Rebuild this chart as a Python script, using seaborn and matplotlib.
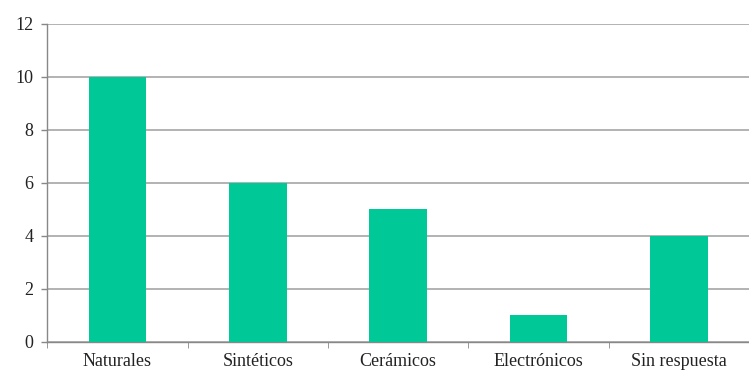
import matplotlib
matplotlib.use("Agg")
import matplotlib.pyplot as plt
from matplotlib import font_manager
import numpy as np
import pandas as pd
import seaborn as sns

categories = ["Naturales", "Sintéticos", "Cerámicos", "Electrónicos", "Sin respuesta"]
values = [10, 6, 5, 1, 4]

df = pd.DataFrame({"categoria": categories, "n": values})

sns.set_style("white")
serif_path = font_manager.findfont(font_manager.FontProperties(family="Liberation Serif"))
fp = font_manager.FontProperties(fname=serif_path, size=13)

fig = plt.figure(figsize=(7.49, 3.74), dpi=100)
ax = fig.add_axes([0.063, 0.086, 0.937, 0.85])

sns.barplot(data=df, x="categoria", y="n", color="#00C896", saturation=1,
            width=0.41, linewidth=0, ax=ax, zorder=3)

ax.set_ylim(0, 12)
ax.set_xlim(-0.5, len(categories) - 0.5)
ax.set_yticks(np.arange(0, 13, 2))
ax.yaxis.grid(True, color="#A6A6A6", lw=1.2, zorder=0)
ax.set_xlabel("")
ax.set_ylabel("")
ax.tick_params(axis="both", colors="#222222")
ax.tick_params(axis="y", length=4, color="#888888", width=1, left=True, pad=6)
ax.tick_params(axis="x", length=0, pad=8)
ax.set_xticks(np.arange(-0.5, len(categories), 1), minor=True)
ax.tick_params(axis="x", which="minor", length=4, color="#888888", bottom=True)
ax.set_xticklabels(categories, fontproperties=fp)
ax.set_yticklabels([str(v) for v in range(0, 13, 2)], fontproperties=fp)

for s in ["top", "right"]:
    ax.spines[s].set_visible(False)
ax.spines["left"].set_color("#888888")
ax.spines["bottom"].set_color("#888888")
ax.spines["left"].set_linewidth(1)
ax.spines["bottom"].set_linewidth(1)

fig.savefig("out.png", dpi=100)
